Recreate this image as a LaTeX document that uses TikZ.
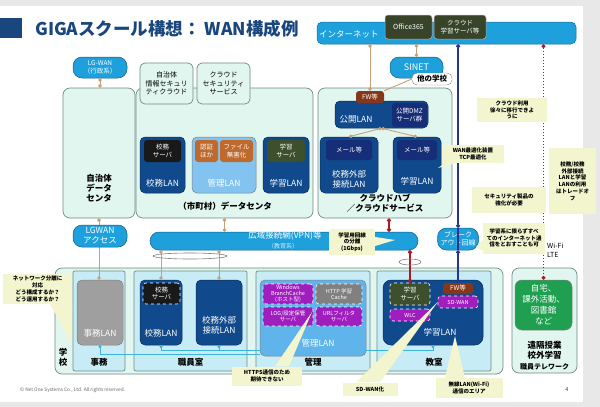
\documentclass[tikz,border=0pt]{standalone}
\usepackage{fontspec}
\setmainfont{Noto Sans CJK JP}
\usetikzlibrary{arrows.meta}
\definecolor{inetblue}{RGB}{30,160,220}
\definecolor{mint}{RGB}{226,246,240}
\definecolor{mintedge}{RGB}{110,140,135}
\definecolor{lanblue}{RGB}{16,74,140}
\definecolor{navy}{RGB}{22,46,120}
\definecolor{mgmtblue}{RGB}{130,195,240}
\definecolor{mgmtblue2}{RGB}{95,180,235}
\definecolor{roomblue}{RGB}{200,236,246}
\definecolor{fwbrown}{RGB}{135,55,25}
\definecolor{authorange}{RGB}{190,105,45}
\definecolor{olive}{RGB}{60,80,45}
\definecolor{srvpurple}{RGB}{160,30,190}
\definecolor{notey}{RGB}{242,245,205}
\definecolor{tanln}{RGB}{200,160,120}
\definecolor{redln}{RGB}{175,25,35}
\definecolor{blueln}{RGB}{40,50,145}
\definecolor{homegreen}{RGB}{30,160,80}
\definecolor{titleblue}{RGB}{25,70,125}
\definecolor{o365}{RGB}{55,68,42}
\definecolor{lanlink}{RGB}{60,180,220}

\begin{document}
\begin{tikzpicture}[x=1pt,y=-1pt]
	\tikzstyle{every node}=[inner sep=0pt,align=center]
	\tikzstyle{bar}=[fill=inetblue,draw=inetblue!70!black,line width=0.5pt,rounded corners=5pt]
	\tikzstyle{pill}=[fill=inetblue,draw=inetblue!60!black,line width=0.5pt,rounded corners=9pt,text=white]
	\tikzstyle{svc}=[fill=o365,draw=gray!60,line width=0.5pt,rounded corners=3pt,text=white]
	\tikzstyle{area}=[fill=mint,draw=mintedge,line width=0.7pt,rounded corners=7pt]
	\tikzstyle{room}=[fill=roomblue,draw=mintedge,line width=0.7pt,rounded corners=2pt]
	\tikzstyle{lan}=[fill=lanblue,draw=lanblue!60!black,line width=0.5pt,rounded corners=5pt]
	\tikzstyle{server}=[rounded corners=3pt,text=white,font=\fontsize{6.5}{7.5}\selectfont]
	\tikzstyle{dashsrv}=[server,draw=white,dashed,line width=0.6pt]
	\tikzstyle{lantext}=[text=white,font=\fontsize{8.5}{10}\selectfont]
	\tikzstyle{caption}=[font=\bfseries\fontsize{8.5}{10}\selectfont]
	\tikzstyle{memo}=[fill=notey,font=\bfseries\fontsize{5.5}{6.8}\selectfont]
	\tikzstyle{wedge}=[fill=notey]
	\tikzstyle{tanlink}=[draw=tanln,line width=0.9pt,{Circle[length=3.5pt]}-{Circle[length=3.5pt]}]
	\tikzstyle{redlink}=[draw=redln,line width=1.4pt,{Circle[length=4pt]}-{Circle[length=4pt]}]
	\tikzstyle{bluelink}=[draw=blueln,line width=1.2pt,{Circle[length=4pt]}-{Circle[length=4pt]}]
	\tikzstyle{cyanlink}=[draw=lanlink,line width=0.7pt,{Circle[length=3pt]}-]
	
	\useasboundingbox (0,0) rectangle (600,407);
	\fill[gray!18] (0,0) rectangle (600,407);
	\fill[white] (0,6) rectangle (583,402);
	
	% title
	\fill[titleblue] (0,18) rectangle (22,38);
	\node[anchor=west,text=titleblue,font=\bfseries\fontsize{17.5}{18}\selectfont] (title) at (35,29) {GIGAスクール構想： WAN構成例};
	
	% internet and cloud
	\node[bar,minimum width=259pt,minimum height=22pt] (inet) at (446.5,33) {};
	\node[lantext,anchor=west] (inettxt) at (319,34) {インターネット};
	\node[svc,minimum width=47pt,minimum height=24pt,font=\fontsize{7}{8}\selectfont] (o365) at (408.5,27) {Office365};
	\node[svc,minimum width=52pt,minimum height=24pt,font=\fontsize{6.5}{7.5}\selectfont] (csrv) at (460,27) {クラウド\\学習サーバ等};
	\node[pill,minimum width=53pt,minimum height=21pt,font=\fontsize{9}{10}\selectfont] (sinet) at (416.5,67.5) {SINET};
	\node[pill,minimum width=54pt,minimum height=21pt,font=\fontsize{6.5}{7.5}\selectfont] (lgwan) at (100,67.5) {LG-WAN\\（行政系）};
	
	% data centers
	\node[area,minimum width=72pt,minimum height=130pt] (jdc) at (99,153) {};
	\node[area,minimum width=177pt,minimum height=130pt] (dc) at (224.5,153) {};
	\node[area,minimum width=134pt,minimum height=130pt] (hub) at (385,153) {};
	\node[area,rounded corners=5pt,minimum width=53pt,minimum height=41pt,font=\fontsize{7}{8.5}\selectfont] (jsc) at (166.5,83.5) {自治体\\情報セキュリ\\ティクラウド};
	\node[area,rounded corners=5pt,minimum width=53pt,minimum height=41pt,font=\fontsize{7}{8.5}\selectfont] (css) at (223.5,83.5) {クラウド\\セキュリティ\\サービス};
	\node[caption] (jdctxt) at (99,188) {自治体\\データ\\センタ};
	\node[caption] (dctxt) at (225,206) {（市町村）データセンタ};
	\node[caption] (hubtxt) at (385,203) {クラウドハブ\\／クラウドサービス};
	
	\node[lan,minimum width=45pt,minimum height=56pt] (kmlan1) at (162.5,165) {};
	\node[server,fill=black!90,minimum width=37pt,minimum height=22pt] (kmsv1) at (162.5,151) {校務\\サーバ};
	\node[lantext] (kmlan1txt) at (162.5,183) {校務LAN};
	\node[lan,fill=mgmtblue,draw=gray,minimum width=64pt,minimum height=56pt] (mglan1) at (224,165) {};
	\node[server,fill=authorange,minimum width=23pt,minimum height=22pt] (auth) at (206.5,151) {認証\\ほか};
	\node[server,fill=authorange,minimum width=33pt,minimum height=22pt] (sanit) at (236.5,151) {ファイル\\無害化};
	\node[lantext] (mglan1txt) at (224,183) {管理LAN};
	\node[lan,minimum width=46pt,minimum height=56pt] (gklan1) at (286,165) {};
	\node[server,fill=olive,minimum width=38pt,minimum height=22pt] (gksv1) at (286,151) {学習\\サーバ};
	\node[lantext] (gklan1txt) at (286,183) {学習LAN};
	
	\node[lan,minimum width=93pt,minimum height=27pt] (pub) at (381.5,114.5) {};
	\node[server,fill=navy,minimum width=35pt,minimum height=24pt] (dmz) at (409.5,115) {公開DMZ\\サーバ群};
	\node[lantext] (pubtxt) at (356,119) {公開LAN};
	\node[server,fill=fwbrown,minimum width=28pt,minimum height=12pt] (fw1) at (370,97) {FW等};
	\node[lan,minimum width=58pt,minimum height=56pt] (kgai1) at (349,165) {};
	\node[server,fill=navy,minimum width=46pt,minimum height=20pt] (mail1) at (349,150) {メール等};
	\node[lantext] (kgai1txt) at (349,179) {校務外部\\接続LAN};
	\node[lan,minimum width=48pt,minimum height=56pt] (gklan2) at (417,165) {};
	\node[server,fill=navy,minimum width=40pt,minimum height=20pt] (mail2) at (417,150) {メール等};
	\node[lantext] (gklan2txt) at (417,181) {学習LAN};
	\node[draw=gray,fill=white,rounded corners=5pt,minimum width=40pt,minimum height=12pt,font=\bfseries\fontsize{7.5}{8}\selectfont] (other) at (432,79) {他の学校};
	
	% wide area networks
	\node[pill,minimum width=268pt,minimum height=18pt] (vpn) at (284,241) {};
	\node[text=white,font=\fontsize{8.5}{9}\selectfont] (vpntxt) at (285,236) {広域接続網(VPN)等};
	\node[text=white!80!inetblue,font=\fontsize{6}{7}\selectfont] (vpnsub) at (283,246) {（教育系）};
	\node[pill,minimum width=41pt,minimum height=22pt,font=\fontsize{7}{8.5}\selectfont] (bo) at (458,239) {ブレーク\\アウト回線};
	
	% school
	\node[area,minimum width=448pt,minimum height=106pt] (school) at (279,321) {};
	\node[room,minimum width=52pt,minimum height=100pt] (rjimu) at (99,321) {};
	\node[room,minimum width=113pt,minimum height=100pt] (rstaff) at (190.5,321) {};
	\node[room,minimum width=114pt,minimum height=100pt] (rmgmt) at (313,321) {};
	\node[room,minimum width=114pt,minimum height=100pt] (rclass) at (434,321) {};
	\node[area,minimum width=65pt,minimum height=105pt] (remote) at (544.5,320.5) {};
	\node[caption] (schooltxt) at (63,357) {学\\校};
	\node[caption] (rjimutxt) at (99,362) {事務};
	\node[caption] (rstafftxt) at (190.5,362) {職員室};
	\node[caption] (rmgmttxt) at (313,362) {管理};
	\node[caption] (rclasstxt) at (434,362) {教室};
	\node[caption] (remotetxt) at (544.5,350) {遠隔授業\\校外学習};
	\node[font=\bfseries\fontsize{7}{8}\selectfont] (teletxt) at (544.5,367) {職員テレワーク};
	
	\node[lan,fill=gray!75,draw=gray,minimum width=46pt,minimum height=65pt] (jimulan) at (100,312.5) {};
	\node[lantext] (jimulantxt) at (100,333) {事務LAN};
	\node[lan,minimum width=42pt,minimum height=65pt] (kmlan2) at (161,312.5) {};
	\node[dashsrv,fill=black!90,minimum width=37pt,minimum height=21pt] (kmsv2) at (161.5,293.5) {校務\\サーバ};
	\node[lantext] (kmlan2txt) at (161,333) {校務LAN};
	\node[lan,minimum width=46pt,minimum height=65pt] (kgai2) at (219,312.5) {};
	\node[lantext] (kgai2txt) at (219,325) {校務外部\\接続LAN};
	\node[lan,fill=mgmtblue2,draw=gray,minimum width=106pt,minimum height=76pt] (mglan2) at (313,318) {};
	\node[dashsrv,fill=srvpurple,minimum width=50pt,minimum height=20pt,font=\fontsize{5.5}{6}\selectfont] (bcache) at (288,294) {Windows\\BranchCache\\(ホスト型)};
	\node[dashsrv,fill=gray,minimum width=46pt,minimum height=20pt,font=\fontsize{5.5}{6.5}\selectfont] (hcache) at (339,294) {HTTP 学習\\Cache};
	\node[dashsrv,fill=srvpurple,minimum width=50pt,minimum height=19pt,font=\fontsize{5.5}{6.5}\selectfont] (logsv) at (288,316.5) {LOG/設定保管\\サーバ};
	\node[dashsrv,fill=srvpurple,minimum width=46pt,minimum height=19pt,font=\fontsize{5.5}{6.5}\selectfont] (urlsv) at (339,316.5) {URLフィルタ\\サーバ};
	\node[lantext] (mglan2txt) at (318,343) {管理LAN};
	\node[lan,rounded corners=8pt,minimum width=100pt,minimum height=65pt] (gklan3) at (433,312.5) {};
	\node[dashsrv,fill=olive,minimum width=40pt,minimum height=22pt] (gksv3) at (410,294) {学習\\サーバ};
	\node[server,fill=fwbrown,minimum width=30pt,minimum height=11pt] (fw2) at (458,288.5) {FW等};
	\node[dashsrv,fill=srvpurple,minimum width=40pt,minimum height=12pt,font=\fontsize{5.5}{6.5}\selectfont] (sdwan) at (458,302) {SD-WAN};
	\node[dashsrv,fill=srvpurple,minimum width=40pt,minimum height=12pt,font=\fontsize{5.5}{6.5}\selectfont] (wlc) at (410,315) {WLC};
	\node[lantext] (gklan3txt) at (440,332) {学習LAN};
	\node[lan,fill=homegreen,draw=gray,rounded corners=7pt,minimum width=57pt,minimum height=50pt,text=white,font=\fontsize{8.5}{11}\selectfont] (home) at (543.5,305) {自宅、\\課外活動、\\図書館\\など};
	
	% links
	\draw[tanlink] (fw1.north |- inet.south) -- (fw1.north);
	\draw[tanlink] (sinet.north |- inet.south) -- (sinet.north);
	\draw[draw=tanln,line width=0.9pt] (other.west) -- (fw1.north east);
	\draw[tanlink] (lgwan.south) -- (lgwan.south |- jdc.north);
	\draw[tanlink] (pub.south) -- (kgai1.north);
	\draw[tanlink] (pub.south) -- (gklan2.north);
	\draw[tanlink] (jdc.south) -- (jdc.south |- jimulan.north);
	\draw[tanlink] (dc.south) -- (dc.south |- vpn.north);
	\draw[tanlink] (kmlan2.north |- vpn.south) -- (kmlan2.north);
	\draw[tanlink] (kgai2.north |- vpn.south) -- (kgai2.north);
	\draw[gray,line width=0.6pt] (190,256) ellipse [x radius=37pt,y radius=3pt];
	\draw[redlink] ([xshift=4pt]hub.south) -- ([xshift=4pt]hub.south |- vpn.north);
	\draw[redlink] (gksv3.north |- vpn.south) -- (gksv3.north);
	\draw[gray,line width=0.6pt] (410,262) ellipse [x radius=11pt,y radius=3pt];
	\draw[bluelink] (bo.north |- inet.south) -- (bo.north);
	\draw[draw=blueln,line width=1.2pt] (bo.north) -- (bo.south);
	\draw[bluelink] (bo.south) -- (fw2.north);
	\draw[redlink,line width=1pt,dotted] (home.north |- inet.south) -- (home.north);
	\draw[cyanlink] (jimulan.south) |- ([yshift=2pt]mglan2.south west);
	\draw[cyanlink] (kmlan2.south) |- ([yshift=6pt]mglan2.south west);
	\draw[cyanlink] (kgai2.south) -- ([yshift=6pt]mglan2.south west -| kgai2.south);
	\draw[cyanlink] (gklan3.south) |- ([yshift=6pt]mglan2.south east);
	\node[pill,minimum width=54pt,minimum height=22pt,font=\fontsize{8.5}{10}\selectfont] (lgacc) at (100,236) {LGWAN\\アクセス};
	\node[anchor=north west,align=left,font=\fontsize{7}{9}\selectfont] (wifi) at (547,243) {Wi-Fi\\LTE};
	
	% notes
	\node[memo,minimum width=69pt,minimum height=30pt] (netnote) at (37.5,289) {ネットワーク分離に\\対応\\どう構成するか？\\どう運用するか？};
	\fill[wedge] ([xshift=-22pt]netnote.south east) -- (71,342) -- (netnote.south east) -- cycle;
	\node[memo,minimum width=70pt,minimum height=24pt] (cloudnote) at (512,110) {クラウド利用\\徐々に移行できよ\\うに};
	\node[memo,minimum width=62pt,minimum height=18pt] (wannote) at (473,154) {WAN最適化装置\\TCP最適化};
	\fill[wedge] ([xshift=3pt]wannote.south west) -- (438,168) -- ([xshift=14pt]wannote.south west) -- cycle;
	\node[memo,minimum width=47pt,minimum height=66pt] (tradenote) at (572.5,181) {校務/校務\\外部接続\\LANと学習\\LANの利用\\はトレードオ\\フ};
	\node[memo,minimum width=74pt,minimum height=26pt] (secnote) at (509,200) {セキュリティ製品の\\強化が必要};
	\node[memo,minimum width=62pt,minimum height=31pt] (allnote) at (514,238) {学習系に限らずすべ\\てのインターネット通\\信をとおすことも可};
	\fill[wedge] ([yshift=-2pt]allnote.west) -- (476,247) -- ([yshift=3pt]allnote.south west) -- cycle;
	\node[memo,minimum width=46pt,minimum height=26pt] (sepnote) at (352,242) {学習用回線\\の分離\\(1Gbps)};
	\fill[wedge] ([yshift=5pt]sepnote.east) -- (395,240) -- ([yshift=-4pt]sepnote.east) -- cycle;
	\node[memo,minimum width=70pt,minimum height=19pt] (httpsnote) at (267,376) {HTTPS通信のため\\期待できない};
	\fill[wedge] ([xshift=8pt]httpsnote.north) -- (312,312) -- ([xshift=22pt]httpsnote.north) -- cycle;
	\node[memo,minimum width=55pt,minimum height=13pt] (sdnote) at (370,389) {SD-WAN化};
	\fill[wedge] ([xshift=-14pt]sdnote.north) -- (sdwan.west) -- ([xshift=10pt]sdnote.north) -- cycle;
	\node[memo,minimum width=67pt,minimum height=20pt] (wlnote) at (469,388) {無線LAN(Wi-Fi)\\通信のエリア};
	\fill[wedge] ([xshift=-24pt]wlnote.north) -- (455,336) -- ([xshift=-4pt]wlnote.north) -- cycle;
	
	\node[anchor=west,text=gray!80!black,font=\fontsize{4.8}{5}\selectfont] (copy) at (20,390) {© Net One Systems Co., Ltd. All rights reserved.};
	\node[text=titleblue,font=\fontsize{5.5}{6}\selectfont] (page) at (567,390) {4};
\end{tikzpicture}
\end{document}
